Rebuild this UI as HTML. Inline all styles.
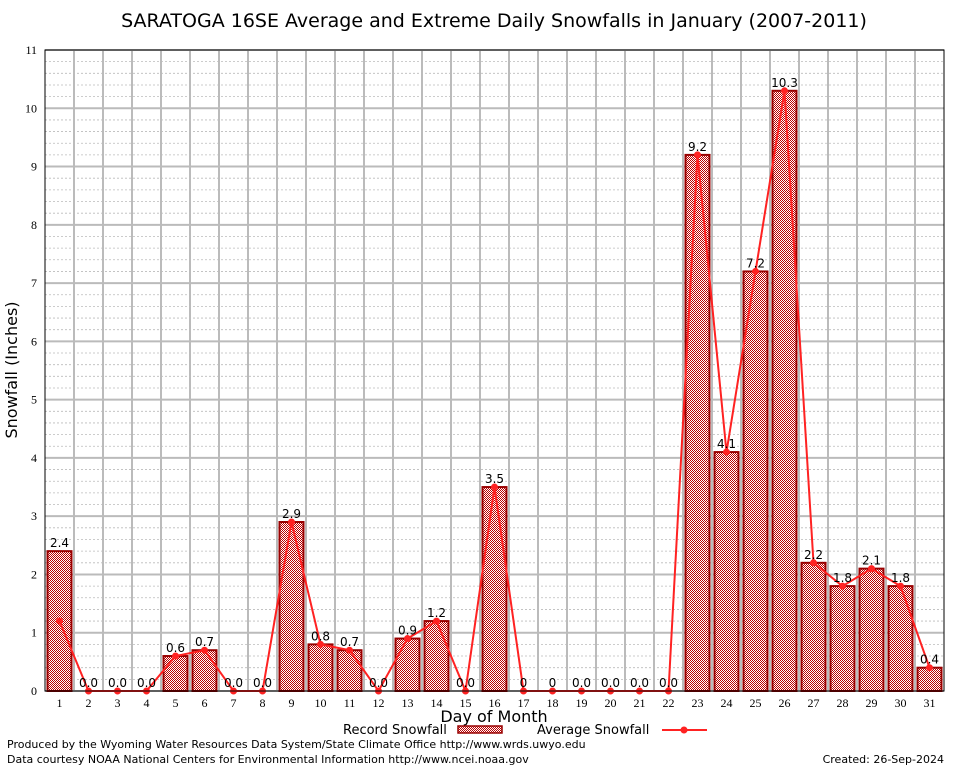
<!DOCTYPE html>
<html><head><meta charset="utf-8"><style>
body{margin:0;background:#fff;}
svg text{font-family:"DejaVu Sans","Liberation Sans",sans-serif;}
svg text.serif{font-family:"Liberation Serif",serif;}
</style></head><body>
<svg id="chart" width="954" height="768" viewBox="0 0 954 768" xmlns="http://www.w3.org/2000/svg">
<defs>
<pattern id="chk" width="2" height="2" patternUnits="userSpaceOnUse">
<rect width="2" height="2" fill="#fff"/><rect width="1" height="1" fill="#b00"/><rect x="1" y="1" width="1" height="1" fill="#b00"/>
</pattern>
</defs>
<rect x="0" y="0" width="954" height="768" fill="#fff"/>
<text x="494" y="27" font-size="19" text-anchor="middle">SARATOGA 16SE Average and Extreme Daily Snowfalls in January (2007-2011)</text>
<g id="grid"></g>
<g id="bars"></g>
<g id="line"></g>
<g id="labels"></g>
<g id="axes"></g>
<text transform="translate(17,370) rotate(-90)" font-size="16" text-anchor="middle">Snowfall (Inches)</text>
<text x="494" y="722" font-size="16" text-anchor="middle">Day of Month</text>
<g>
<text x="343" y="734" font-size="13">Record Snowfall</text>
<rect x="458" y="726" width="44" height="7" fill="url(#chk)" stroke="#900" stroke-width="1.5"/>
<text x="537" y="734" font-size="13">Average Snowfall</text>
<line x1="662" y1="730" x2="707" y2="730" stroke="#f22" stroke-width="2"/>
<circle cx="684" cy="730" r="3.5" fill="#f22"/>
</g>
<text x="7" y="748" font-size="11">Produced by the Wyoming Water Resources Data System/State Climate Office http://www.wrds.uwyo.edu</text>
<text x="7" y="763" font-size="11">Data courtesy NOAA National Centers for Environmental Information http://www.ncei.noaa.gov</text>
<text x="944" y="763" font-size="11" text-anchor="end">Created:  26-Sep-2024</text>
</svg>
<script>
const days = [1,2,3,4,5,6,7,8,9,10,11,12,13,14,15,16,17,18,19,20,21,22,23,24,25,26,27,28,29,30,31];
const recordValues = [2.4,0,0,0,0.6,0.7,0,0,2.9,0.8,0.7,0,0.9,1.2,0,3.5,0,0,0,0,0,0,9.2,4.1,7.2,10.3,2.2,1.8,2.1,1.8,0.4];
const recordLabels = ["2.4","0.0","0.0","0.0","0.6","0.7","0.0","0.0","2.9","0.8","0.7","0.0","0.9","1.2","0.0","3.5","0","0","0.0","0.0","0.0","0.0","9.2","4.1","7.2","10.3","2.2","1.8","2.1","1.8","0.4"];
const averageValues = [1.2,0,0,0,0.6,0.7,0,0,2.9,0.8,0.7,0,0.9,1.2,0,3.5,0,0,0,0,0,0,9.2,4.1,7.2,10.3,2.2,1.8,2.1,1.8,0.4];
const yTicks = [0,1,2,3,4,5,6,7,8,9,10,11];

const L=45,R=944,T=50,B=691,YMAX=11;
const step=(R-L)/days.length;
const xC=d=>L+(d-0.5)*step;
const y=v=>B-(v/YMAX)*(B-T);
const NS="http://www.w3.org/2000/svg";
function mk(tag,attrs,parent,txt){const e=document.createElementNS(NS,tag);for(const k in attrs)e.setAttribute(k,attrs[k]);if(txt!==undefined)e.textContent=txt;parent.appendChild(e);return e;}
const grid=document.getElementById('grid'),bars=document.getElementById('bars'),line=document.getElementById('line'),labels=document.getElementById('labels'),axes=document.getElementById('axes');

for(let v=0.2;v<YMAX;v+=0.2){
  if(Math.abs(v-Math.round(v))<0.01)continue;
  const g=mk('line',{x1:L,x2:R,y1:y(v),y2:y(v),stroke:'#bbb','stroke-width':0.8,'stroke-dasharray':'2,2'},grid);
  
  
}
yTicks.forEach(t=>{
  const g=mk('line',{x1:L,x2:R,y1:y(t),y2:y(t),stroke:'#bbb','stroke-width':2},grid);
  
  
  const tl=mk('text',{x:L-8,y:y(t)+4,'font-size':12,'text-anchor':'end','class':'serif'},axes,String(t));
  
  
});
for(let i=1;i<days.length;i++){
  const g=mk('line',{x1:L+i*step,x2:L+i*step,y1:T,y2:B,stroke:'#bbb','stroke-width':2},grid);
  
  
}
days.forEach((d,i)=>{
  const v=recordValues[i];
  if(v>0){
    const b=mk('rect',{x:xC(d)-12,y:y(v),width:24,height:B-y(v),fill:'url(#chk)',stroke:'#900','stroke-width':2},bars);
    
    
  }
  const lb=mk('text',{x:xC(d),y:y(v)-4,'font-size':12,'text-anchor':'middle'},labels,recordLabels[i]);
  
  
  const xl=mk('text',{x:xC(d),y:B+16,'font-size':12,'text-anchor':'middle','class':'serif'},axes,String(d));
  
  
});
const pts=days.map((d,i)=>xC(d)+','+y(averageValues[i])).join(' ');
const pl=mk('polyline',{points:pts,fill:'none',stroke:'#f22','stroke-width':2},line);


days.forEach((d,i)=>{
  const c=mk('circle',{cx:xC(d),cy:y(averageValues[i]),r:3.5,fill:'#f22'},line);
  
  
});
const fr=mk('rect',{x:L,y:T,width:R-L,height:B-T,fill:'none',stroke:'#000','stroke-width':1},axes);


</script>
</body></html>
